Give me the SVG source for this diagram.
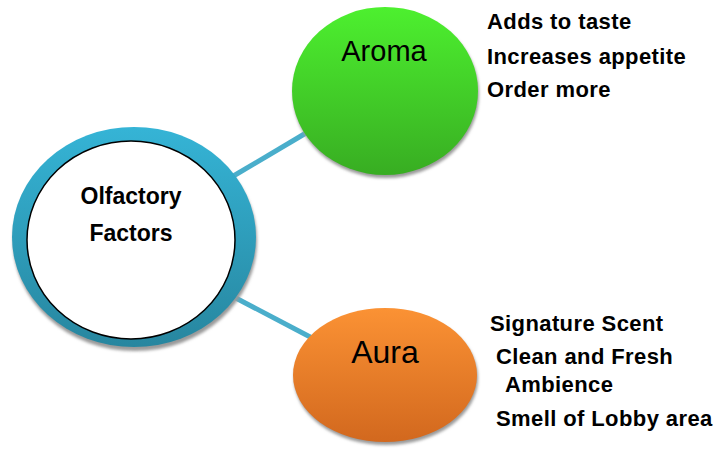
<svg xmlns="http://www.w3.org/2000/svg" width="717" height="456" viewBox="0 0 717 456">
  <defs>
    <linearGradient id="gBlue" x1="0" y1="0" x2="0" y2="1">
      <stop offset="0" stop-color="#35b4d6"/>
      <stop offset="1" stop-color="#27869f"/>
    </linearGradient>
    <linearGradient id="gGreen" x1="0" y1="0" x2="0" y2="1">
      <stop offset="0" stop-color="#4df02f"/>
      <stop offset="1" stop-color="#38ad22"/>
    </linearGradient>
    <linearGradient id="gOrange" x1="0" y1="0" x2="0" y2="1">
      <stop offset="0" stop-color="#fb9234"/>
      <stop offset="1" stop-color="#d2681e"/>
    </linearGradient>
    <filter id="soft" x="-10%" y="-10%" width="120%" height="120%">
      <feGaussianBlur stdDeviation="1.5"/>
    </filter>
  </defs>
  <style>
    .shadow { fill: #9a9a9a; filter: url(#soft); }
    .link { stroke: #4aaecb; stroke-width: 5; fill: none; }
    .title { font-family: "Liberation Sans", Arial, sans-serif; fill: #000; text-anchor: middle; }
    .bold { font-weight: bold; }
    .note { font-family: "Liberation Sans", Arial, sans-serif; font-weight: bold; font-size: 22px; letter-spacing: 0.4px; fill: #000; }
  </style>

  <rect width="717" height="456" fill="#ffffff"/>

  <!-- connectors -->
  <g id="connectors">
    <line class="link" x1="230" y1="178" x2="306" y2="133"/>
    <line class="link" x1="232" y1="296" x2="314" y2="339"/>
  </g>

  <!-- central node -->
  <g id="olfactory">
    <ellipse class="shadow" cx="135" cy="241" rx="122" ry="110"/>
    <ellipse cx="134" cy="237" rx="122" ry="110" fill="url(#gBlue)"/>
    <ellipse cx="131" cy="240" rx="104" ry="99" fill="#ffffff" stroke="#000" stroke-width="1.5"/>
    <text class="title bold" x="131" y="204" font-size="23">Olfactory</text>
    <text class="title bold" x="131" y="241" font-size="23">Factors</text>
  </g>

  <!-- aroma node -->
  <g id="aroma">
    <ellipse class="shadow" cx="386" cy="94" rx="93" ry="84"/>
    <ellipse cx="385" cy="91" rx="93" ry="84" fill="url(#gGreen)"/>
    <text class="title" x="384" y="61" font-size="29">Aroma</text>
  </g>

  <!-- aura node -->
  <g id="aura">
    <ellipse class="shadow" cx="386" cy="378" rx="92" ry="67"/>
    <ellipse cx="385" cy="375" rx="92" ry="67" fill="url(#gOrange)"/>
    <text class="title" x="385" y="363" font-size="32">Aura</text>
  </g>

  <!-- aroma notes -->
  <g id="aroma-notes">
    <text class="note" x="487" y="29">Adds to taste</text>
    <text class="note" x="487" y="64">Increases appetite</text>
    <text class="note" x="487" y="97">Order more</text>
  </g>

  <!-- aura notes -->
  <g id="aura-notes">
    <text class="note" x="490" y="331">Signature Scent</text>
    <text class="note" x="496" y="364">Clean and Fresh</text>
    <text class="note" x="505" y="392">Ambience</text>
    <text class="note" x="496" y="426">Smell of Lobby area</text>
  </g>
</svg>
